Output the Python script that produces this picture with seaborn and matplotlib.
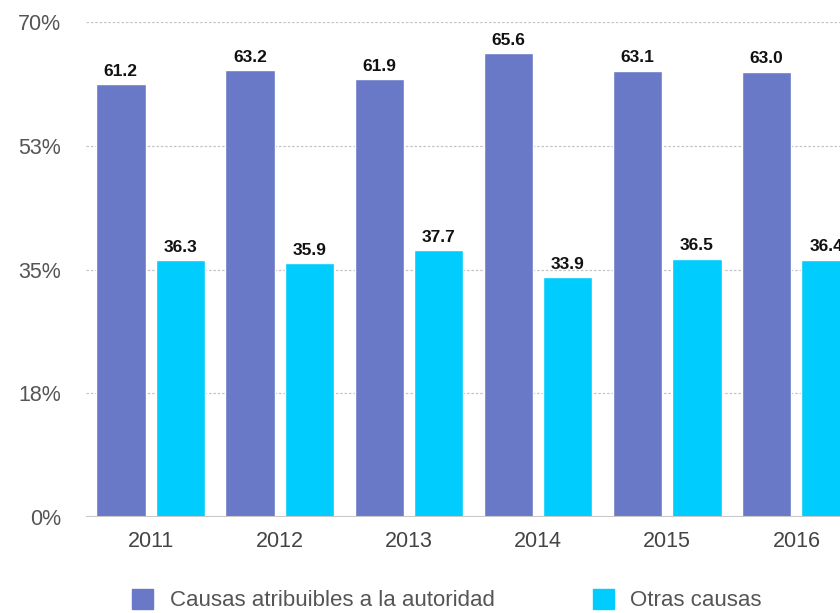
import numpy as np
import pandas as pd
import matplotlib
matplotlib.use("Agg")
import matplotlib.pyplot as plt
import seaborn as sns

years = ["2011", "2012", "2013", "2014", "2015", "2016"]
autoridad = [61.2, 63.2, 61.9, 65.6, 63.1, 63.0]
otras = [36.3, 35.9, 37.7, 33.9, 36.5, 36.4]
series_names = ["Causas atribuibles a la autoridad", "Otras causas"]
colors = ["#6a78c8", "#00cdfd"]
yticks = [0, 17.5, 35, 52.5, 70]
ytick_labels = ["0%", "18%", "35%", "53%", "70%"]

sns.set_theme(style="white")
plt.rcParams['font.family'] = ['Liberation Sans', 'DejaVu Sans']

df = pd.DataFrame({
    "year": years * 2,
    "value": autoridad + otras,
    "serie": [series_names[0]] * len(years) + [series_names[1]] * len(years),
})

fig = plt.figure(figsize=(8.4, 6.13), dpi=100)
ax = fig.add_axes([86 / 840, 1 - 517 / 613, 775 / 840, 495 / 613])

sns.barplot(data=df, x="year", y="value", hue="serie", palette=colors,
            width=0.92, gap=0.17, saturation=1, ax=ax, legend=False)

for cont in ax.containers:
    ax.bar_label(cont, fmt="%.1f", padding=4, fontsize=12.5, fontweight="bold",
                 color="#111111")

ax.set_ylim(0, 70)
ax.set_xlim(-0.5, 5.5)
ax.set_yticks(yticks)
ax.set_yticklabels(ytick_labels)
ax.set_xlabel("")
ax.set_ylabel("")
ax.tick_params(axis="y", length=0, pad=18, labelsize=15.5, labelcolor="#555555")
ax.tick_params(axis="x", length=0, pad=10, labelsize=15.5, labelcolor="#444444")

for y in yticks[1:]:
    ax.axhline(y, color="#c4c4c4", linestyle=(0, (2, 1.5)), linewidth=0.9, zorder=0)
ax.axhline(0, color="#c8c8c8", linewidth=1.5, zorder=3)

for s in ax.spines.values():
    s.set_visible(False)

handles = [plt.Rectangle((0, 0), 1, 1, color=c) for c in colors]
fig.legend(handles, series_names, loc="center", bbox_to_anchor=(447 / 840, 1 - 600 / 613),
           ncol=2, frameon=False, fontsize=16, labelcolor="#555555",
           handlelength=0.95, handleheight=1.0, handletextpad=0.75, columnspacing=4.4)

fig.savefig("out.png", dpi=100)
